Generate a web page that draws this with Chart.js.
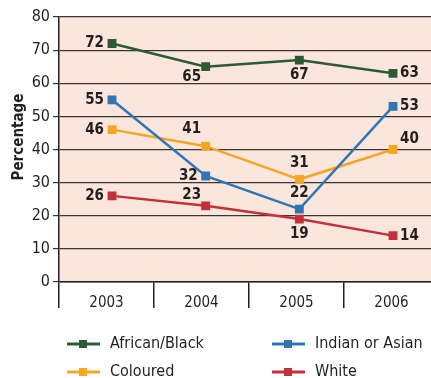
<!DOCTYPE html>
<html>
<head>
<meta charset="utf-8">
<script src="https://cdn.jsdelivr.net/npm/chart.js@4"></script>
<style>
  html, body { margin: 0; padding: 0; background: #fff; overflow: hidden; }
  /* the original plot runs past the right edge of the picture */
  #wrap { position: relative; width: 446px; height: 378px; }
</style>
</head>
<body>
<div id="wrap"><canvas id="chart"></canvas></div>
<script>
const years = ['2003', '2004', '2005', '2006'];
const africanBlack = [72, 65, 67, 63];
const indianAsian = [55, 32, 22, 53];
const coloured = [46, 41, 31, 40];
const white = [26, 23, 19, 14];
const yTicks = [0, 10, 20, 30, 40, 50, 60, 70, 80];
const yTitle = 'Percentage';

// where each value label sits relative to its point
const labelPos = {
   0: ['left', 'belowleft', 'below', 'right'],
   1: ['left', 'left', 'above', 'right'],
   2: ['left', 'aboveleft', 'above', 'aboveright'],
   3: ['left', 'nearleft', 'below', 'right'],
};

const narrow = "'DejaVu Sans Condensed', 'Liberation Sans Narrow', sans-serif";

const plotBackground = {
   id: 'plotBackground',
   beforeDraw(chart) {
      const { ctx, chartArea } = chart;
      ctx.save();
      ctx.fillStyle = '#fae6dc';
      ctx.fillRect(chartArea.left, chartArea.top, chartArea.right - chartArea.left, chartArea.bottom - chartArea.top);
      ctx.restore();
   },
};

// axis title sits a bit above the middle of the plot in the original
const axisTitle = {
   id: 'axisTitle',
   afterDraw(chart) {
      const { ctx } = chart;
      ctx.save();
      ctx.translate(19, 137);
      ctx.rotate(-Math.PI / 2);
      ctx.font = 'bold 15px ' + narrow;
      ctx.fillStyle = '#231f20';
      ctx.textAlign = 'center';
      ctx.textBaseline = 'middle';
      ctx.fillText(yTitle, 0, 0);
      ctx.restore();
   },
};

const valueLabels = {
   id: 'valueLabels',
   afterDatasetsDraw(chart) {
      const { ctx } = chart;
      ctx.save();
      ctx.font = 'bold 15px ' + narrow;
      ctx.fillStyle = '#231f20';
      chart.data.datasets.forEach((ds, i) => {
         chart.getDatasetMeta(i).data.forEach((pt, j) => {
            const pos = labelPos[i][j];
            let x = pt.x, y = pt.y;
            ctx.textAlign = 'center';
            ctx.textBaseline = 'middle';
            if (pos === 'left') { ctx.textAlign = 'right'; x -= 8; }
            if (pos === 'right') { ctx.textAlign = 'left'; x += 7; }
            if (pos === 'above') { y -= 16; }
            if (pos === 'below') { y += 15; }
            if (pos === 'belowleft') { x -= 14; y += 10; }
            if (pos === 'aboveleft') { x -= 14; y -= 17; }
            if (pos === 'nearleft') { x -= 14; y -= 11; }
            if (pos === 'aboveright') { ctx.textAlign = 'left'; x += 7; y -= 10; }
            ctx.fillText(ds.data[j].y, x, y);
         });
      });
      ctx.restore();
   },
};

const bottomLegend = {
   id: 'bottomLegend',
   afterDraw(chart) {
      const { ctx } = chart;
      const spots = [[67, 344], [272, 344], [67, 372], [272, 372]];
      ctx.save();
      ctx.font = '16px ' + narrow;
      ctx.textBaseline = 'middle';
      ctx.textAlign = 'left';
      // legend order: African/Black, Indian or Asian, Coloured, White
      chart.data.datasets.forEach((ds, k) => {
         const [x, y] = spots[k];
         ctx.strokeStyle = ds.borderColor;
         ctx.lineWidth = 3;
         ctx.beginPath();
         ctx.moveTo(x, y);
         ctx.lineTo(x + 33, y);
         ctx.stroke();
         ctx.fillStyle = ds.borderColor;
         ctx.fillRect(x + 12, y - 4, 8, 8);
         ctx.fillStyle = '#231f20';
         ctx.fillText(ds.label, x + 43, y);
      });
      ctx.restore();
   },
};

// points sit on a hidden linear axis (index of the year) so their spacing
// can differ slightly from the category boxes, as in the original
const makeSeries = (label, values, color) => ({
   label,
   data: values.map((v, i) => ({ x: i, y: v })),
   xAxisID: 'xd',
   borderColor: color,
   backgroundColor: color,
   borderWidth: 2.5,
   pointStyle: 'rect',
   pointRadius: 4.5,
   pointHoverRadius: 4.5,
   tension: 0,
});

new Chart(document.getElementById('chart'), {
   type: 'line',
   data: {
      labels: years,
      datasets: [
         makeSeries('African/Black', africanBlack, '#2d5a34'),
         makeSeries('Indian or Asian', indianAsian, '#2f76b5'),
         makeSeries('Coloured', coloured, '#f5a623'),
         makeSeries('White', white, '#c1303b'),
      ],
   },
   options: {
      responsive: true,
      maintainAspectRatio: false,
      animation: false,
      layout: { padding: { top: 17, right: 0, bottom: 68, left: 0 } },
      plugins: {
         legend: { display: false },
         tooltip: { enabled: false },
      },
      scales: {
         x: {
            type: 'category',
            offset: true,
            afterFit: (scale) => {
               scale.height = 28;
               scale.paddingLeft = 0;
               scale.paddingRight = 0;
            },
            border: { color: '#231f20', width: 1.5 },
            grid: {
               offset: true,
               drawOnChartArea: false,
               drawTicks: true,
               tickLength: 26,
               color: '#231f20',
               lineWidth: 1.5,
            },
            ticks: {
               padding: -14,
               color: '#231f20',
               font: { family: narrow, size: 15 },
            },
         },
         xd: {
            type: 'linear',
            display: false,
            min: -0.566,
            max: 3.491,
         },
         y: {
            min: 0,
            max: 80,
            afterBuildTicks: (scale) => { scale.ticks = yTicks.map(v => ({ value: v })); },
            afterFit: (scale) => { scale.width = 59; },
            border: { color: '#231f20', width: 1.5 },
            grid: {
               color: '#3a3433',
               lineWidth: 1.2,
               tickLength: 6,
            },
            ticks: {
               padding: 3,
               color: '#231f20',
               font: { family: narrow, size: 16 },
            },
         },
      },
   },
   plugins: [plotBackground, axisTitle, valueLabels, bottomLegend],
});
</script>
</body>
</html>
